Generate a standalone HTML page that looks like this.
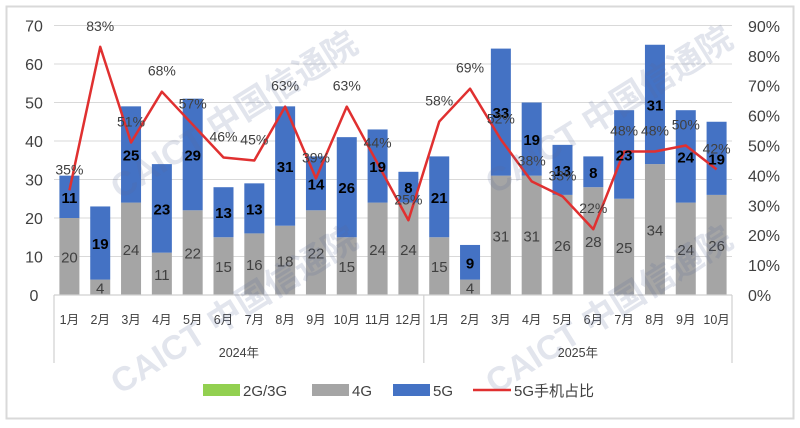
<!DOCTYPE html>
<html><head><meta charset="utf-8"><style>
body{margin:0;background:#fff}
svg{display:block;font-family:"Liberation Sans","Noto Sans CJK SC",sans-serif}
</style></head><body>
<svg width="800" height="428" viewBox="0 0 800 428" xmlns="http://www.w3.org/2000/svg">
<rect x="0" y="0" width="800" height="428" fill="#fff"/>
<rect x="6.5" y="6.5" width="787" height="412" fill="none" stroke="#d9d9d9" stroke-width="2"/>
<g id="grid" stroke="#d9d9d9" stroke-width="1"></g>
<g id="bars"></g>
<g id="axis" stroke="#d0d0d0" stroke-width="1.2"></g>
<polyline id="line" fill="none" stroke="#e03030" stroke-width="2.5" stroke-linejoin="round"/>
<g id="txt"></g>
<g opacity="0.18" fill="#5a6a9a" font-weight="bold" font-size="34">
<text x="0" y="0" transform="translate(120,200) rotate(-32)">CAICT 中国信通院</text>
<text x="0" y="0" transform="translate(120,395) rotate(-32)">CAICT 中国信通院</text>
<text x="0" y="0" transform="translate(495,195) rotate(-32)">CAICT 中国信通院</text>
<text x="0" y="0" transform="translate(495,395) rotate(-32)">CAICT 中国信通院</text>
</g>
<g font-size="15" fill="#404040">
<rect x="203" y="384" width="37" height="12" fill="#92d050"/><text x="243" y="396">2G/3G</text>
<rect x="312" y="384" width="37" height="12" fill="#a5a5a5"/><text x="352" y="396">4G</text>
<rect x="393" y="384" width="37" height="12" fill="#4472c4"/><text x="433" y="396">5G</text>
<line x1="473" y1="390" x2="511" y2="390" stroke="#e03030" stroke-width="2.5"/><text x="514" y="396">5G手机占比</text>
</g>
</svg>
<script>
const g4=[20,4,24,11,22,15,16,18,22,15,24,24,15,4,31,31,26,28,25,34,24,26];
const g5=[11,19,25,23,29,13,13,31,14,26,19,8,21,9,33,19,13,8,23,31,24,19];
const pc=[35,83,51,68,57,46,45,63,39,63,44,25,58,69,52,38,33,22,48,48,50,42];
const mo=['1月','2月','3月','4月','5月','6月','7月','8月','9月','10月','11月','12月','1月','2月','3月','4月','5月','6月','7月','8月','9月','10月'];
const L=54,R=732,Y0=295,pu=3.85,pp=2.99,pitch=(R-L)/22,bw=20;
const NS='http://www.w3.org/2000/svg';
function el(p,t,a,txt){const e=document.createElementNS(NS,t);for(const k in a)e.setAttribute(k,a[k]);if(txt!==undefined)e.textContent=txt;document.getElementById(p).appendChild(e);return e;}
for(let v=0;v<=70;v+=10){const y=Y0-v*pu;if(v>0)el('grid','line',{x1:L,x2:R,y1:y,y2:y});
el('txt','text',{x:34,y:y+6,'font-size':16,fill:'#404040','text-anchor':'middle'},v);}
for(let p=0;p<=90;p+=10){const y=Y0-p*pp;el('txt','text',{x:748,y:y+6,'font-size':16,fill:'#404040'},p+'%');}
el('axis','line',{x1:L,x2:R,y1:Y0,y2:Y0});
[L,L+12*pitch,R].forEach(x=>el('axis','line',{x1:x,x2:x,y1:Y0,y2:363}));
let pts=[];
for(let i=0;i<22;i++){const cx=L+pitch*(i+.5);
const h4=g4[i]*pu,h5=g5[i]*pu;
el('bars','rect',{x:cx-bw/2,y:Y0-h4,width:bw,height:h4,fill:'#a5a5a5'});
el('bars','rect',{x:cx-bw/2,y:Y0-h4-h5,width:bw,height:h5,fill:'#4472c4'});
el('txt','text',{x:cx,y:Y0-h4/2+6,'font-size':15,fill:'#404040','text-anchor':'middle'},g4[i]);
el('txt','text',{x:cx,y:Y0-h4-h5/2+6,'font-size':15,'font-weight':'bold',fill:'#000','text-anchor':'middle'},g5[i]);
const py=Y0-pc[i]*pp;pts.push(cx+','+py);
el('txt','text',{x:cx,y:py-16,'font-size':14,fill:'#404040','text-anchor':'middle'},pc[i]+'%');
el('txt','text',{x:cx,y:324,'font-size':12.5,fill:'#404040','text-anchor':'middle'},mo[i]);}
document.getElementById('line').setAttribute('points',pts.join(' '));
el('txt','text',{x:L+6*pitch,y:357,'font-size':12.5,fill:'#404040','text-anchor':'middle'},'2024年');
el('txt','text',{x:L+17*pitch,y:357,'font-size':12.5,fill:'#404040','text-anchor':'middle'},'2025年');
</script>
</body></html>
